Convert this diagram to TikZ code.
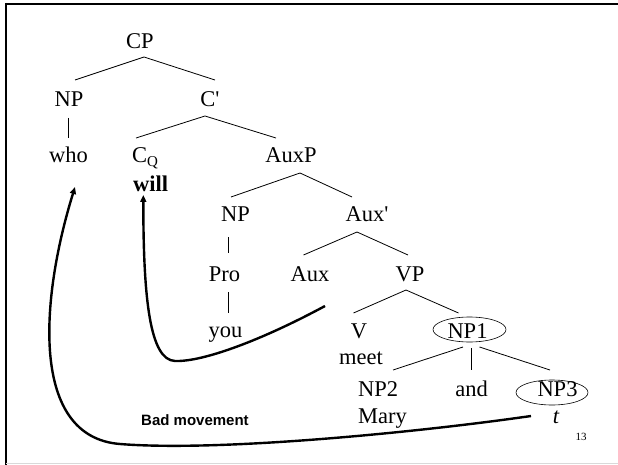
\documentclass[tikz,border=0pt]{standalone}
\usepackage{fontspec}
\newfontfamily\tfont{Liberation Serif}
\newfontfamily\sfont{Liberation Sans}
\usetikzlibrary{arrows.meta,shapes.geometric}
\begin{document}
\begin{tikzpicture}[x=1pt,y=-1pt,
  lbl/.style={font=\tfont\fontsize{22.5}{27}\selectfont, inner sep=0pt, anchor=base},
  edge/.style={line width=0.8pt},
  ring/.style={draw, ellipse, line width=0.6pt, inner sep=0pt},
  mv/.style={line width=2.4pt, -{Triangle[length=7pt,width=6pt]}}]
\useasboundingbox (0,0) rectangle (618,465);
% frame
\draw[line width=2.5pt] (5,4) -- (618,4);
\draw[line width=2.5pt] (6,3) -- (6,465);
\draw[black!15, line width=1.5pt] (6,463.5) -- (618,463.5);
% labels
\node[lbl] (cp) at (140,49) {CP};
\node[lbl] (npa) at (69,107) {NP};
\node[lbl] (cbar) at (210,107) {C'};
\node[lbl] (who) at (68.5,163) {who};
\node[lbl, anchor=base west] (cq) at (132,163) {C\raisebox{-4pt}{\fontsize{15}{15}\selectfont Q}};
\node[lbl, anchor=base west] (will) at (133,192) {\bfseries will};
\node[lbl] (auxp) at (291,163) {AuxP};
\node[lbl] (npb) at (235.5,221) {NP};
\node[lbl] (auxbar) at (367,221) {Aux'};
\node[lbl] (pro) at (224.5,281) {Pro};
\node[lbl] (aux) at (310,281) {Aux};
\node[lbl] (vp) at (410,281) {VP};
\node[lbl] (you) at (225.5,337) {you};
\node[lbl] (v) at (359,338) {V};
\node[lbl] (npone) at (467.5,338) {NP1};
\node[lbl] (meet) at (361,364) {meet};
\node[lbl, anchor=base west] (nptwo) at (358,396) {NP2};
\node[lbl] (and) at (471.5,396) {and};
\node[lbl] (npthree) at (557.5,396) {NP3};
\node[lbl, anchor=base west] (mary) at (358,423) {Mary};
\node[lbl] (t) at (556,423) {\itshape t};
\node[font=\sfont\bfseries\fontsize{15}{18}\selectfont, inner sep=0pt, anchor=base] (bad) at (195,425) {Bad movement};
\node[font=\tfont\fontsize{11}{13}\selectfont, inner sep=0pt, anchor=base] (pg) at (581,440) {13};
% ellipses
\node[ring, minimum width=73pt, minimum height=25pt] (ringone) at (469.5,329.5) {};
\node[ring, minimum width=72pt, minimum height=25pt] (ringthree) at (552,392.5) {};
% branch points
\coordinate (cp-b) at (144,57);
\coordinate (npa-t) at (75,80);
\coordinate (cbar-t) at (215,80);
\coordinate (npa-b) at (68,118);
\coordinate (who-t) at (68,138);
\coordinate (cbar-b) at (205,116);
\coordinate (cq-t) at (136,138);
\coordinate (auxp-t) at (276,138);
\coordinate (auxp-b) at (300,173);
\coordinate (npb-t) at (231,197);
\coordinate (auxbar-t) at (352,197);
\coordinate (npb-b) at (228,237);
\coordinate (pro-t) at (228,253);
\coordinate (auxbar-b) at (357,232);
\coordinate (aux-t) at (303.5,255);
\coordinate (vp-t) at (408,255);
\coordinate (pro-b) at (228,292);
\coordinate (you-t) at (228,313);
\coordinate (vp-b) at (406,290);
\coordinate (v-t) at (353.5,313);
\coordinate (npone-t) at (458.5,313);
\coordinate (npone-bl) at (463,347);
\coordinate (npone-bm) at (471,348);
\coordinate (npone-br) at (479.5,347);
\coordinate (nptwo-t) at (393,370);
\coordinate (and-t) at (471,370);
\coordinate (npthree-t) at (550,370);
% tree lines
\draw[edge] (npa-t) -- (cp-b) -- (cbar-t);
\draw[edge] (npa-b) -- (who-t);
\draw[edge] (cq-t) -- (cbar-b) -- (auxp-t);
\draw[edge] (npb-t) -- (auxp-b) -- (auxbar-t);
\draw[edge] (npb-b) -- (pro-t);
\draw[edge] (aux-t) -- (auxbar-b) -- (vp-t);
\draw[edge] (pro-b) -- (you-t);
\draw[edge] (v-t) -- (vp-b) -- (npone-t);
\draw[edge] (npone-bl) -- (nptwo-t);
\draw[edge] (npone-bm) -- (and-t);
\draw[edge] (npone-br) -- (npthree-t);
% movement arrows
\coordinate (m1s) at (325,306);
\coordinate (m1e) at (143.3,195);
\coordinate (m1m) at (175,361);
\draw[mv] (m1s) .. controls (262,340) and (203,362) .. (m1m)
  .. controls (150,360) and (143.3,300) .. (m1e);
\coordinate (m2s) at (531,416);
\coordinate (m2m) at (120,444);
\coordinate (m2e) at (75,187);
\draw[mv] (m2s) .. controls (420,432) and (220,452) .. (m2m)
  .. controls (30,437) and (40,300) .. (m2e);
\end{tikzpicture}
\end{document}
